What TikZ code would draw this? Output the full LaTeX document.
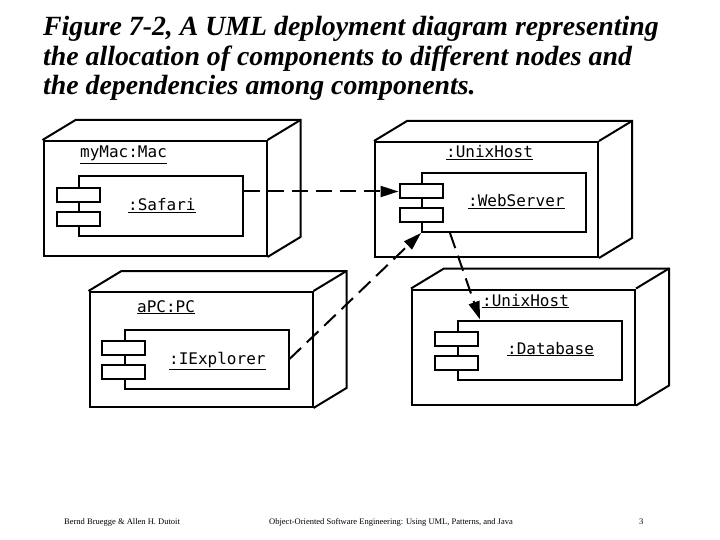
\documentclass[tikz,border=0pt]{standalone}
\usepackage{fontspec}
\setmainfont{Liberation Serif}
\setmonofont{DejaVu Sans Mono}
\usepackage{tikz}
\usetikzlibrary{positioning,arrows.meta,calc}

\begin{document}
\begin{tikzpicture}[x=1pt, y=-1pt,
  every node/.append style={font=\ttfamily\fontsize{16}{18}\selectfont},
  box/.style={draw, line width=2pt, minimum width=223pt, minimum height=115pt, inner sep=0pt},
  comp/.style={draw, line width=2pt, minimum width=164pt, minimum height=59pt, inner sep=0pt},
  port/.style={draw, fill=white, line width=2pt, minimum width=43pt, minimum height=14pt, inner sep=0pt},
  lbl/.style={anchor=base west, inner sep=0pt},
  titleline/.style={anchor=base west, inner sep=0pt, font=\rmfamily\bfseries\itshape\fontsize{27.8}{30}\selectfont},
  foot/.style={anchor=base west, inner sep=0pt, font=\rmfamily\fontsize{8.5}{10}\selectfont},
  dep/.style={line width=2pt, dash pattern=on 16pt off 8pt, -{Triangle[length=18pt,width=11pt]}}
]
\useasboundingbox (0,0) rectangle (720,540);

% title
\node[titleline] (title1) at (43,36) {Figure 7-2, A UML deployment diagram representing};
\node[titleline] (title2) at (43,66) {the allocation of components to different nodes and};
\node[titleline] (title3) at (43,95) {the dependencies among components.};

% deployment nodes (front face + depth)
\foreach \n/\cx/\cy in {mac/155/198.5, host/486.5/199.5, pc/201/349.5, dbhost/523.5/347} {
  \node[box] (\n) at (\cx,\cy) {};
  \draw[line width=2pt] (\n.north west) -- ++(33,-20) -- ($(\n.north east)+(33,-20)$)
    -- ($(\n.south east)+(33,-20)$) -- (\n.south east);
  \draw[line width=2pt] (\n.north east) -- ++(33,-20);
}

% components with their two ports
\foreach \n/\cx/\cy in {safari/161/206, web/504/202.5, ie/206.5/359, db/539.5/350} {
  \node[comp] (\n) at (\cx,\cy) {};
  \node[port] (\n-a) at ([yshift=11pt]\n.west) {};
  \node[port] (\n-b) at ([yshift=-13pt]\n.west) {};
}

% names
\node[lbl] (macname) at (80,158) {\underline{myMac:Mac}};
\node[lbl] (hostname) at (446,158) {\underline{:UnixHost}};
\node[lbl] (pcname) at (137,312) {\underline{aPC:PC}};
\node[lbl] (dbhostname) at (482,306) {\underline{:UnixHost}};
\node[lbl] (safariname) at (128,211) {\underline{:Safari}};
\node[lbl] (webname) at (468,207) {\underline{:WebServer}};
\node[lbl] (iename) at (169,364) {\underline{:IExplorer}};
\node[lbl] (dbname) at (507,354) {\underline{:Database}};

% dependencies
\draw[dep] (safari.east |- web-a.west) -- (web-a.west);
\draw[dep] (ie.east) -- (web.south west);
\draw[dep] ([xshift=29pt]web.south west) -- ([xshift=23.5pt]db.north west);

% footer
\node[foot] (author) at (64,524) {Bernd Bruegge \& Allen H. Dutoit};
\node[foot] (book) at (269,524) {Object-Oriented Software Engineering: Using UML, Patterns, and Java};
\node[foot] (page) at (639,524) {3};
\end{tikzpicture}
\end{document}
